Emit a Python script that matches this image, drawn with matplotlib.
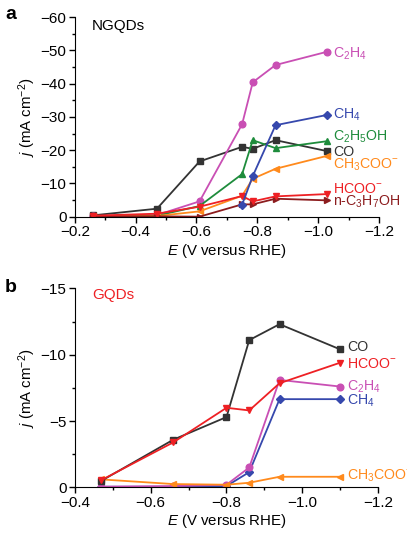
import numpy as np
import matplotlib.pyplot as plt
from matplotlib.ticker import MultipleLocator

plt.rcParams['font.family'] = ['Liberation Sans', 'DejaVu Sans']
plt.rcParams['mathtext.fontset'] = 'custom'
plt.rcParams['mathtext.rm'] = 'Liberation Sans'
plt.rcParams['mathtext.it'] = 'Liberation Sans:italic'
plt.rcParams['font.size'] = 11

# Panel a: NGQDs, potential (V vs RHE) and partial current density (mA cm-2)
e_a = [-0.26, -0.47, -0.61, -0.75, -0.785, -0.86, -1.03]
e_a_ch4 = [-0.75, -0.785, -0.86, -1.03]
c2h4_a = [-0.2, -0.5, -4.6, -27.8, -40.4, -45.6, -49.6]
ch4_a = [-3.6, -12.2, -27.5, -30.6]
c2h5oh_a = [-0.1, -0.3, -3.2, -12.8, -23.0, -20.6, -22.7]
co_a = [-0.4, -2.4, -16.6, -21.0, -20.4, -23.0, -19.7]
ch3coo_a = [-0.1, -0.2, -1.6, -6.3, -11.4, -14.4, -18.3]
hcoo_a = [-0.3, -0.9, -3.0, -6.2, -4.6, -6.1, -6.8]
c3h7oh_a = [-0.1, -0.1, 0.0, -3.7, -3.7, -5.4, -4.9]

# Panel b: GQDs
e_b = [-0.47, -0.66, -0.80, -0.86, -0.94, -1.10]
co_b = [-0.5, -3.6, -5.3, -11.1, -12.3, -10.4]
hcoo_b = [-0.55, -3.4, -6.0, -5.8, -7.85, -9.4]
c2h4_b = [-0.05, -0.1, -0.2, -1.5, -8.1, -7.6]
ch4_b = [-0.05, -0.05, -0.1, -1.15, -6.65, -6.65]
ch3coo_b = [-0.6, -0.25, -0.2, -0.35, -0.8, -0.8]

colors = {
    'C2H4': '#c94fb4', 'CH4': '#3648ad', 'C2H5OH': '#1e8c3c', 'CO': '#333333',
    'CH3COO': '#ff8a1c', 'HCOO': '#ee2024', 'C3H7OH': '#8c1c1e',
}

fig = plt.figure(figsize=(4.07, 5.35), dpi=100)
ax_a = fig.add_axes([0.184, 0.595, 0.747, 0.373])
ax_b = fig.add_axes([0.184, 0.089, 0.745, 0.372])

kw = dict(lw=1.3, ms=4.8)
kw_d = dict(lw=1.3, ms=4.2)

# panel a lines
ax_a.plot(e_a, co_a, marker='s', color=colors['CO'], **kw)
ax_a.plot(e_a, c2h4_a, marker='o', color=colors['C2H4'], **kw)
ax_a.plot(e_a, c2h5oh_a, marker='^', color=colors['C2H5OH'], **kw)
ax_a.plot(e_a, ch3coo_a, marker='<', color=colors['CH3COO'], **kw)
ax_a.plot(e_a, c3h7oh_a, marker='>', color=colors['C3H7OH'], **kw)
ax_a.plot(e_a, hcoo_a, marker='v', color=colors['HCOO'], **kw)
ax_a.plot(e_a_ch4, ch4_a, marker='D', color=colors['CH4'], **kw_d)

labels_a = [
    ('C$_2$H$_4$', -48.9, colors['C2H4']),
    ('CH$_4$', -30.5, colors['CH4']),
    ('C$_2$H$_5$OH', -24.0, colors['C2H5OH']),
    ('CO', -19.4, colors['CO']),
    ('CH$_3$COO$^{-}$', -15.7, colors['CH3COO']),
    ('HCOO$^{-}$', -8.3, colors['HCOO']),
    ('n-C$_3$H$_7$OH', -4.4, colors['C3H7OH']),
]
for txt, y, c in labels_a:
    ax_a.text(-1.049, y, txt, color=c, va='center', ha='left', fontsize=10.2)

ax_a.set_xlim(-0.2, -1.2)
ax_a.set_ylim(0, -60)
ax_a.xaxis.set_major_locator(MultipleLocator(0.2))
ax_a.xaxis.set_minor_locator(MultipleLocator(0.1))
ax_a.yaxis.set_major_locator(MultipleLocator(10))
ax_a.yaxis.set_minor_locator(MultipleLocator(5))
ax_a.text(-0.256, -57.3, 'NGQDs', fontsize=11, ha='left', va='center')

# panel b lines
ax_b.plot(e_b, ch4_b, marker='D', color=colors['CH4'], **kw_d)
ax_b.plot(e_b, c2h4_b, marker='o', color=colors['C2H4'], **kw)
ax_b.plot(e_b, ch3coo_b, marker='<', color=colors['CH3COO'], **kw)
ax_b.plot(e_b, co_b, marker='s', color=colors['CO'], **kw)
ax_b.plot(e_b, hcoo_b, marker='v', color=colors['HCOO'], **kw)

labels_b = [
    ('CO', -10.6, colors['CO']),
    ('HCOO$^{-}$', -9.3, colors['HCOO']),
    ('C$_2$H$_4$', -7.6, colors['C2H4']),
    ('CH$_4$', -6.5, colors['CH4']),
    ('CH$_3$COO$^{-}$', -0.85, colors['CH3COO']),
]
for txt, y, c in labels_b:
    ax_b.text(-1.118, y, txt, color=c, va='center', ha='left', fontsize=10.2)

ax_b.set_xlim(-0.4, -1.2)
ax_b.set_ylim(0, -15)
ax_b.xaxis.set_major_locator(MultipleLocator(0.2))
ax_b.xaxis.set_minor_locator(MultipleLocator(0.1))
ax_b.yaxis.set_major_locator(MultipleLocator(5))
ax_b.yaxis.set_minor_locator(MultipleLocator(2.5))
ax_b.text(-0.445, -14.5, 'GQDs', fontsize=11, ha='left', va='center', color=colors['HCOO'])

for ax in (ax_a, ax_b):
    ax.spines['top'].set_visible(False)
    ax.spines['right'].set_visible(False)
    ax.tick_params(which='major', direction='out', length=4, width=1, labelsize=11, pad=2)
    ax.tick_params(which='minor', direction='out', length=2.5, width=1)
    ax.set_xlabel('$E$ (V versus RHE)', fontsize=10.8, labelpad=2)
    ax.set_ylabel('$j$ (mA cm$^{-2}$)', fontsize=10.8, labelpad=2)
    ax.xaxis.set_major_formatter(plt.FuncFormatter(lambda v, p: f'{v:.1f}'.replace('-', '\u2212')))

ax_a.yaxis.set_major_formatter(plt.FuncFormatter(lambda v, p: f'{v:.0f}'.replace('-', '\u2212')))
ax_b.yaxis.set_major_formatter(plt.FuncFormatter(lambda v, p: f'{v:.0f}'.replace('-', '\u2212')))

fig.text(0.012, 0.972, 'a', fontsize=14, fontweight='bold', va='center')
fig.text(0.012, 0.462, 'b', fontsize=14, fontweight='bold', va='center')

fig.savefig('out.png', dpi=100)
